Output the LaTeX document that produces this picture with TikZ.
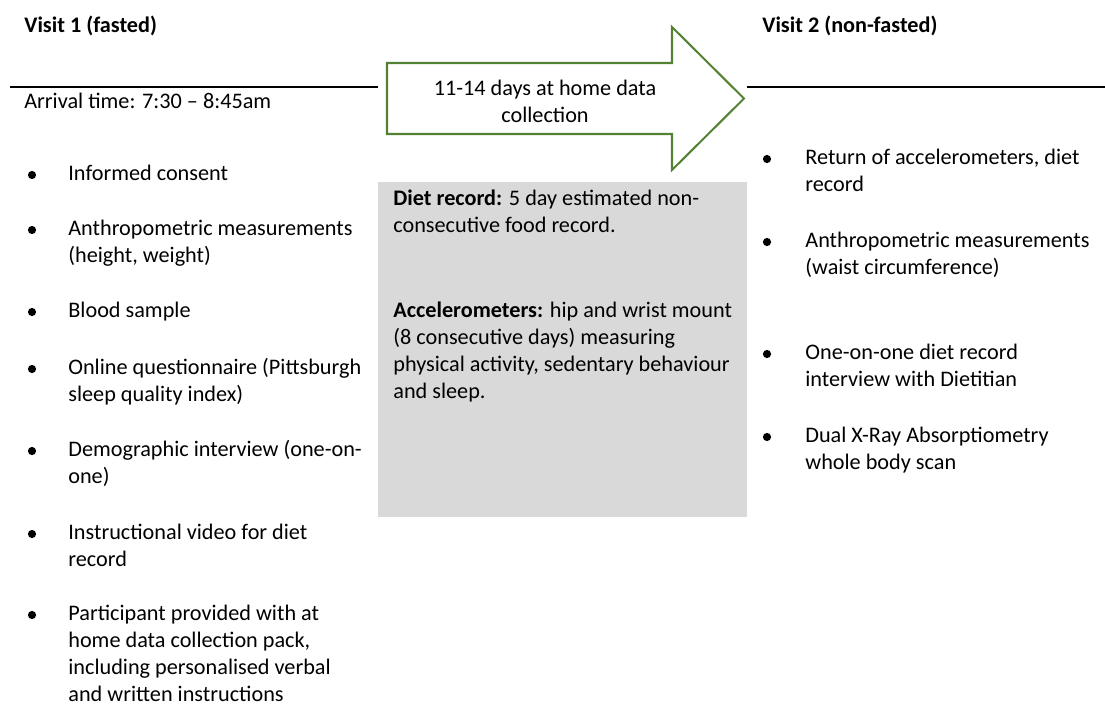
\documentclass[tikz,border=0pt]{standalone}
\usepackage{fontspec}
\setmainfont{Carlito}
\usepackage{xcolor}
\definecolor{arrowgreen}{HTML}{548235}
\definecolor{boxgray}{HTML}{D9D9D9}
\newcommand{\linesof}[1]{\begin{tabular}[t]{@{}l@{}}#1\end{tabular}}

\begin{document}
\begin{tikzpicture}[x=0.54pt, y=-0.54pt,
  every node/.style={font=\fontsize{12}{14.6}\selectfont, inner sep=0pt},
  head/.style={anchor=base west, font=\fontsize{12}{14.6}\selectfont\bfseries},
  itm/.style={anchor=base west},
  bul/.style={fill=black}]
\useasboundingbox (0,0) rectangle (1105,706);
\node[head] (v1) at (24,33) {Visit 1 (fasted)};
\node[head] (v2) at (762,33) {Visit 2 (non-fasted)};
\draw[thick] (10,87) -- (378,87);
\draw[thick] (747,87) -- (1105,87);
\draw[arrowgreen, line width=1.1pt, fill=white]
  (387,63) -- (672,63) -- (672,27) -- (744,98.5) -- (672,170) -- (672,134) -- (387,134) -- cycle;
\node[align=center] (home) at (545,101) {11-14 days at home data\\collection};
\node[itm] (arr) at (24,109) {Arrival time: 7:30 – 8:45am};
\foreach \y/\t [count=\i] in {180/{Informed consent},
  235/{Anthropometric measurements\\(height, weight)},
  317/{Blood sample},
  374/{Online questionnaire (Pittsburgh\\sleep quality index)},
  456/{Demographic interview (one-on-\\one)},
  539/{Instructional video for diet\\record},
  620/{Participant provided with at\\home data collection pack,\\including personalised verbal\\and written instructions}}{
  \node[itm] (L\i) at (68,\y) {\linesof{\t}};
  \fill[bul] (32,\y-5) circle (4.1);
}
\fill[boxgray] (378,182) rectangle (747,517);
\node[itm] (diet) at (393,205) {\linesof{\textbf{Diet record:} 5 day estimated non-\\consecutive food record.}};
\node[itm] (acc) at (393,317) {\linesof{\textbf{Accelerometers:} hip and wrist mount\\(8 consecutive days) measuring\\physical activity, sedentary behaviour\\and sleep.}};
\foreach \y/\t [count=\i] in {164/{Return of accelerometers, diet\\record},
  247/{Anthropometric measurements\\(waist circumference)},
  359/{One-on-one diet record\\interview with Dietitian},
  442/{Dual X-Ray Absorptiometry\\whole body scan}}{
  \node[itm] (R\i) at (805,\y) {\linesof{\t}};
  \fill[bul] (767,\y-5) circle (4.1);
}
\end{tikzpicture}
\end{document}
